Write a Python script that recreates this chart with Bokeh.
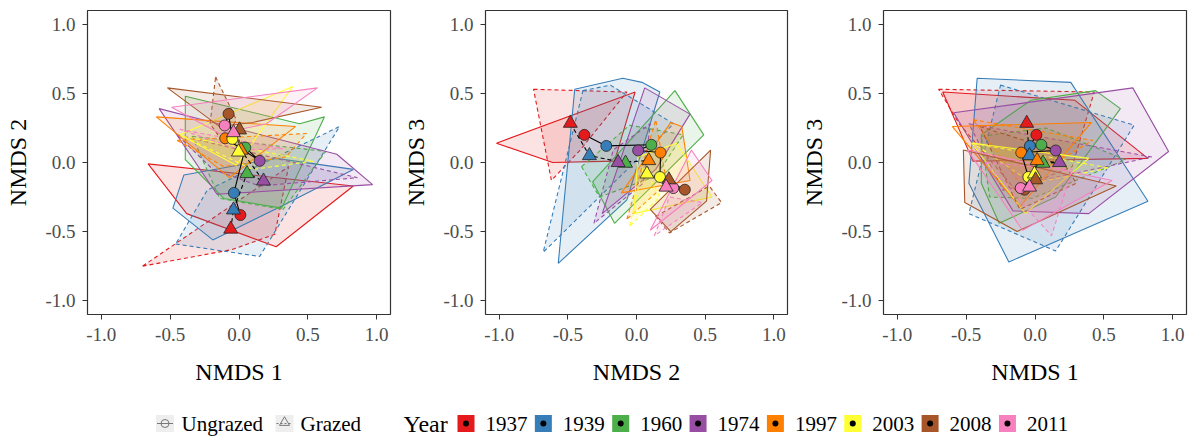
from bokeh.plotting import figure
from bokeh.layouts import row, column
from bokeh.models import Range1d, FixedTicker, PrintfTickFormatter
from bokeh.embed import file_html
from bokeh.resources import INLINE
from bokeh.core.properties import value

years = ["1937", "1939", "1960", "1974", "1997", "2003", "2008", "2011"]
colors = ["#E41A1C", "#377EB8", "#4DAF4A", "#984EA3", "#FF7F00", "#FFFF33", "#A65628", "#F781BF"]

# centroids (ungrazed = circles, grazed = triangles)
ung_n1 = [0.01, -0.037, 0.046, 0.15, -0.10, -0.048, -0.076, -0.104]
ung_n2 = [-0.38, -0.22, 0.108, 0.012, 0.175, 0.171, 0.352, 0.268]
ung_n3 = [0.20, 0.12, 0.128, 0.087, 0.072, -0.105, -0.197, -0.185]
gra_n1 = [-0.06, -0.04, 0.058, 0.178, 0.015, -0.004, 0.004, -0.04]
gra_n2 = [-0.482, -0.343, -0.08, -0.134, 0.089, 0.076, 0.236, 0.216]
gra_n3 = [0.284, 0.05, -0.005, 0.0, 0.014, -0.083, -0.125, -0.178]

# hulls, panel 1 (NMDS1 x NMDS2)
hull_p1_ung = {
    "1937": [(-0.66, -0.01), (0.83, -0.17), (0.27, -0.61), (-0.38, -0.37)],
    "1939": [(-0.48, -0.33), (-0.40, -0.09), (0.27, 0.03), (0.83, -0.05), (0.30, -0.32), (-0.19, -0.56)],
    "1960": [(-0.39, 0.48), (0.44, 0.28), (0.62, 0.33), (0.31, -0.33), (-0.11, -0.26), (-0.39, 0.02)],
    "1974": [(-0.58, 0.39), (0.71, 0.06), (0.97, -0.16), (-0.16, -0.23)],
    "1997": [(-0.60, 0.33), (0.41, 0.26), (-0.07, -0.11)],
    "2003": [(-0.43, 0.20), (0.39, 0.55), (-0.02, -0.02)],
    "2008": [(-0.52, 0.54), (0.60, 0.40), (0.10, 0.29), (-0.14, 0.26)],
    "2011": [(-0.49, 0.40), (0.57, 0.54), (0.20, 0.28), (-0.14, 0.21)],
}
hull_p1_gra = {
    "1937": [(-0.70, -0.75), (-0.05, -0.63), (0.26, -0.52), (0.36, -0.03)],
    "1939": [(-0.46, -0.59), (0.15, -0.68), (0.73, 0.26), (-0.23, -0.20)],
    "1960": [(-0.34, 0.19), (0.63, 0.08), (0.32, -0.34), (-0.14, -0.26)],
    "1974": [(-0.45, 0.20), (0.86, -0.11), (0.15, -0.17), (-0.19, -0.05)],
    "1997": [(-0.45, 0.16), (0.49, 0.21), (0.34, 0.04), (-0.11, -0.03)],
    "2003": [(-0.41, 0.19), (0.54, 0.01), (0.10, -0.05)],
    "2008": [(-0.17, 0.62), (-0.02, 0.31), (-0.11, 0.14), (-0.21, 0.28)],
    "2011": [(-0.43, 0.24), (0.32, 0.10), (0.01, 0.09)],
}
# hulls, panel 2 (NMDS2 x NMDS3)
hull_p2_ung = {
    "1937": [(-1.02, 0.14), (-0.01, 0.51), (-0.16, 0.01), (-0.61, 0.0)],
    "1939": [(-0.45, 0.53), (-0.10, 0.61), (0.04, 0.58), (0.17, 0.51), (-0.07, -0.27), (-0.57, -0.73)],
    "1960": [(-0.32, -0.14), (0.28, 0.52), (0.49, 0.20), (-0.16, -0.44)],
    "1974": [(-0.25, -0.37), (0.06, 0.54), (0.39, 0.35), (0.14, -0.05)],
    "1997": [(-0.11, -0.22), (0.25, 0.29), (0.33, 0.26), (0.39, -0.13)],
    "2003": [(-0.02, -0.37), (0.01, 0.04), (0.29, 0.14), (0.55, -0.25)],
    "2008": [(0.10, -0.34), (0.54, 0.09), (0.51, -0.28), (0.25, -0.50)],
    "2011": [(0.10, -0.49), (0.40, 0.09), (0.55, -0.13), (0.29, -0.34)],
}
hull_p2_gra = {
    "1937": [(-0.75, 0.53), (-0.07, 0.51), (-0.41, 0.09), (-0.62, -0.13)],
    "1939": [(-0.39, 0.52), (-0.19, 0.56), (0.27, 0.28), (-0.68, -0.65)],
    "1960": [(-0.40, -0.03), (-0.05, 0.27), (0.34, 0.20), (0.14, -0.10), (-0.27, -0.25)],
    "1974": [(-0.31, -0.44), (-0.17, 0.09), (0.10, 0.28), (0.05, -0.15)],
    "1997": [(-0.07, -0.41), (0.14, 0.31), (0.22, -0.15)],
    "2003": [(-0.05, -0.46), (0.05, -0.03), (0.17, -0.25)],
    "2008": [(0.14, -0.39), (0.53, -0.17), (0.62, -0.29), (0.24, -0.51)],
    "2011": [(0.13, -0.53), (0.24, -0.25), (0.48, -0.29)],
}
# hulls, panel 3 (NMDS1 x NMDS3)
hull_p3_ung = {
    "1937": [(-0.67, 0.51), (0.29, 0.45), (0.82, 0.03), (-0.45, 0.01)],
    "1939": [(-0.42, 0.61), (0.26, 0.58), (0.82, -0.28), (-0.19, -0.72), (-0.48, -0.15)],
    "1960": [(-0.39, 0.20), (-0.03, 0.45), (0.44, 0.52), (0.62, 0.39), (0.15, -0.25), (-0.26, -0.44), (-0.39, -0.15)],
    "1974": [(-0.59, 0.36), (0.71, 0.54), (0.97, 0.08), (0.39, -0.37), (-0.16, -0.35)],
    "1997": [(-0.60, 0.26), (0.41, 0.29), (-0.11, -0.32)],
    "2003": [(-0.46, 0.14), (0.39, 0.03), (-0.07, -0.37)],
    "2008": [(-0.52, 0.09), (0.59, -0.17), (-0.13, -0.50), (-0.51, -0.29)],
    "2011": [(-0.49, 0.09), (0.56, -0.13), (-0.09, -0.49)],
}
hull_p3_gra = {
    "1937": [(-0.70, 0.53), (0.43, 0.51), (0.27, -0.03), (-0.14, -0.20), (-0.55, 0.28)],
    "1939": [(-0.25, 0.56), (0.72, 0.27), (0.15, -0.64), (-0.48, -0.37)],
    "1960": [(-0.39, 0.19), (0.08, 0.25), (0.66, 0.02), (-0.02, -0.26), (-0.33, -0.25)],
    "1974": [(-0.48, 0.28), (0.85, 0.04), (0.18, -0.10), (-0.23, -0.20)],
    "1997": [(-0.45, 0.31), (0.42, 0.16), (-0.11, -0.15)],
    "2003": [(-0.45, 0.14), (0.54, -0.04), (-0.02, -0.15)],
    "2008": [(-0.40, 0.26), (0.15, 0.09), (0.30, -0.15), (-0.11, -0.34)],
    "2011": [(-0.36, 0.0), (0.27, -0.05), (0.12, -0.53)],
}

tick_values = [-1.0, -0.5, 0.0, 0.5, 1.0]
SERIF = "Liberation Serif"
PANEL_H = 394


def panel(xu, yu, xg, yg, hu, hg, xlabel, ylabel, width, left, right):
    p = figure(width=width, height=PANEL_H, x_range=Range1d(-1.1, 1.1), y_range=Range1d(-1.1, 1.1),
               output_backend="svg", toolbar_location=None,
               min_border_left=left, min_border_right=right, min_border_top=10,
               min_border_bottom=PANEL_H - 10 - 304)
    p.xgrid.visible = False
    p.ygrid.visible = False
    p.outline_line_color = "#333333"
    p.outline_line_width = 1.2
    p.background_fill_color = "white"
    for ax in (p.xaxis[0], p.yaxis[0]):
        ax.ticker = FixedTicker(ticks=tick_values)
        ax.formatter = PrintfTickFormatter(format="%.1f")
        ax.axis_line_color = None
        ax.major_tick_line_color = "#333333"
        ax.major_tick_in = 0
        ax.major_tick_out = 5
        ax.minor_tick_line_color = None
        ax.major_label_text_font = SERIF
        ax.major_label_text_font_size = "19px"
        ax.major_label_text_color = "#4D4D4D"
        ax.axis_label_text_font = SERIF
        ax.axis_label_text_font_size = "24px"
        ax.axis_label_text_font_style = "normal"
        ax.axis_label_text_color = "black"
    p.xaxis.axis_label = xlabel
    p.yaxis.axis_label = ylabel
    p.xaxis.major_label_standoff = 8
    p.yaxis.major_label_standoff = 7
    p.xaxis.axis_label_standoff = 15
    p.yaxis.axis_label_standoff = 11

    for i, yr in enumerate(years):
        for hull, dash in ((hu, "solid"), (hg, "4 3")):
            pts = hull[yr]
            p.patch([q[0] for q in pts], [q[1] for q in pts], fill_color=colors[i], fill_alpha=0.12,
                    line_color=colors[i], line_width=1.1, line_dash=dash)
    p.line(xu, yu, line_color="black", line_width=1.1)
    p.line(xg, yg, line_color="black", line_width=1.1, line_dash="4 3")
    p.scatter(xu, yu, marker="circle", size=11, fill_color=colors, line_color="#222222", line_width=0.8)
    p.scatter(xg, yg, marker="triangle", size=14, fill_color=colors, line_color="#222222", line_width=0.8)
    return p


f1 = panel(ung_n1, ung_n2, gra_n1, gra_n2, hull_p1_ung, hull_p1_gra, "NMDS 1", "NMDS 2", 398, 87, 8)
f2 = panel(ung_n2, ung_n3, gra_n2, gra_n3, hull_p2_ung, hull_p2_gra, "NMDS 2", "NMDS 3", 398, 87, 9)
f3 = panel(ung_n1, ung_n3, gra_n1, gra_n3, hull_p3_ung, hull_p3_gra, "NMDS 1", "NMDS 3", 392, 87, 2)

# legend strip
LG_W, LG_H = 1188, 438 - PANEL_H
lg = figure(width=LG_W, height=LG_H, x_range=Range1d(0, LG_W), y_range=Range1d(0, LG_H),
            output_backend="svg", toolbar_location=None, x_axis_type=None, y_axis_type=None,
            min_border=0)
lg.outline_line_color = None
lg.xgrid.visible = False
lg.ygrid.visible = False
yc = 15
# shape keys
k1, k2 = 164.5, 284
for kx in (k1, k2):
    lg.rect([kx], [yc], width=18, height=17, fill_color="#EEEEEE", line_color=None)
lg.segment([k1 - 8], [yc], [k1 + 8], [yc], line_color="#777777", line_width=1)
lg.scatter([k1], [yc], marker="circle", size=8, fill_color=None, line_color="#777777", line_width=1)
lg.segment([k2 - 8], [yc], [k2 + 8], [yc], line_color="#777777", line_width=1, line_dash="2 2")
lg.scatter([k2], [yc + 1], marker="triangle", size=10, fill_color=None, line_color="#777777", line_width=1)
lg.text([181, 300], [yc, yc], text=["Ungrazed", "Grazed"], text_font=value(SERIF), text_font_size="21px",
        text_baseline="middle", text_align="left", text_color="black")
lg.text([403], [yc], text=["Year"], text_font=value(SERIF), text_font_size="24px",
        text_baseline="middle", text_align="left", text_color="black")
sq_x = [465.5 + i * 77.35 for i in range(len(years))]
lg.rect(sq_x, [yc] * len(years), width=17, height=17, fill_color=colors, line_color=None)
lg.scatter(sq_x, [yc] * len(years), marker="circle", size=6, fill_color="black", line_color=None)
lg.text([x + 19.5 for x in sq_x], [yc] * len(years), text=years, text_font=value(SERIF),
        text_font_size="21px", text_baseline="middle", text_align="left", text_color="black")

layout = column(row(f1, f2, f3), lg)
open("out.html", "w").write(file_html(layout, INLINE))
